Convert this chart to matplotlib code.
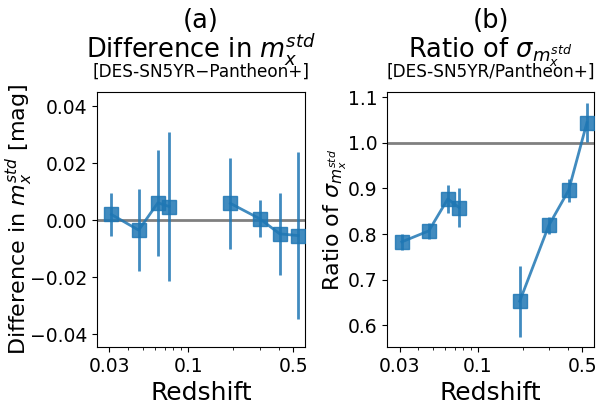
import numpy as np
import matplotlib
matplotlib.use('Agg')
import matplotlib.pyplot as plt
from matplotlib.ticker import FixedLocator, FixedFormatter, NullFormatter

# redshift bins (low-z and high-z groups)
z_low = [0.031, 0.047, 0.063, 0.075]
z_high = [0.191, 0.299, 0.406, 0.538]

# (a) difference in m_x^std
diff_low = [0.0020, -0.0035, 0.0061, 0.0048]
diff_low_err = [0.0075, 0.0143, 0.0187, 0.0263]
diff_high = [0.0059, 0.0005, -0.0048, -0.0054]
diff_high_err = [0.0160, 0.0065, 0.0143, 0.0292]

# (b) ratio of sigma
ratio_low = [0.783, 0.807, 0.877, 0.858]
ratio_low_err = [0.017, 0.018, 0.030, 0.042]
ratio_high = [0.653, 0.819, 0.896, 1.044]
ratio_high_err = [0.078, 0.018, 0.025, 0.043]

col = 'tab:blue'

fig = plt.figure(figsize=(6.09, 4.11), dpi=100)
ax1 = fig.add_axes([0.159, 0.156, 0.342, 0.620])
ax2 = fig.add_axes([0.636, 0.156, 0.339, 0.620])

def panel(ax, xl, yl, el, xh, yh, eh, ref):
    ax.axhline(ref, color='gray', lw=2, zorder=1)
    for x, y, e in [(xl, yl, el), (xh, yh, eh)]:
        ax.errorbar(x, y, yerr=e, fmt='s-', color=col, ms=9.5, lw=2,
                    alpha=0.85, zorder=3)
    ax.set_xscale('log')
    ax.set_xlim(0.0248, 0.598)
    ax.xaxis.set_major_locator(FixedLocator([0.03, 0.1, 0.5]))
    ax.xaxis.set_major_formatter(FixedFormatter(['0.03', '0.1', '0.5']))
    ax.xaxis.set_minor_formatter(NullFormatter())
    ax.tick_params(labelsize=13.5)
    ax.set_xlabel('Redshift', fontsize=18)

panel(ax1, z_low, diff_low, diff_low_err, z_high, diff_high, diff_high_err, 0.0)
ax1.set_ylim(-0.0445, 0.0450)
ax1.set_yticks([-0.04, -0.02, 0.0, 0.02, 0.04])
ax1.set_ylabel('Difference in $m_x^{std}$ [mag]', fontsize=16, labelpad=-4)
ax1.text(0.5, 1.252, '(a)', transform=ax1.transAxes, ha='center', va='baseline', fontsize=18.5)
ax1.text(0.5, 1.135, 'Difference in $m_x^{std}$', transform=ax1.transAxes,
         ha='center', va='baseline', fontsize=18.5)
ax1.text(0.5, 1.062, '[DES-SN5YR\u2212Pantheon+]', transform=ax1.transAxes,
         ha='center', va='baseline', fontsize=12.2)

panel(ax2, z_low, ratio_low, ratio_low_err, z_high, ratio_high, ratio_high_err, 1.0)
ax2.set_ylim(0.553, 1.111)
ax2.set_yticks([0.6, 0.7, 0.8, 0.9, 1.0, 1.1])
ax2.set_ylabel('Ratio of $\\sigma_{m_x^{std}}$', fontsize=16, labelpad=-1)
ax2.text(0.5, 1.252, '(b)', transform=ax2.transAxes, ha='center', va='baseline', fontsize=18.5)
ax2.text(0.5, 1.135, 'Ratio of $\\sigma_{m_x^{std}}$', transform=ax2.transAxes,
         ha='center', va='baseline', fontsize=18.5)
ax2.text(0.5, 1.062, '[DES-SN5YR/Pantheon+]', transform=ax2.transAxes,
         ha='center', va='baseline', fontsize=12.2)

fig.savefig('out.png', dpi=100)
